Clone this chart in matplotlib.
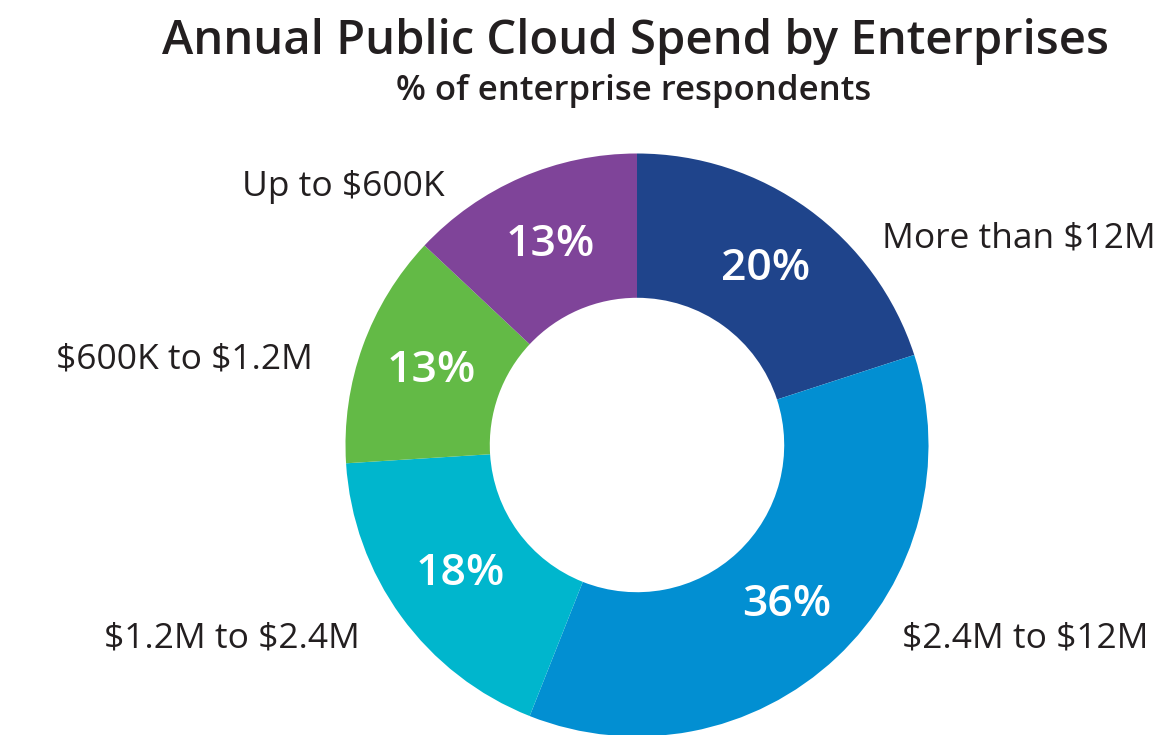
import matplotlib
matplotlib.use("Agg")
import matplotlib.pyplot as plt

# ---- data ----
categories = ["More than $12M", "$2.4M to $12M", "$1.2M to $2.4M",
              "$600K to $1.2M", "Up to $600K"]
shares = [20, 36, 18, 13, 13]
colors = ["#1F448B", "#028FD2", "#00B6CD", "#63BA46", "#7F4499"]

title = "Annual Public Cloud Spend by Enterprises"
subtitle = "% of enterprise respondents"

W, H = 1174, 735
CX, CY, R = 637, 445, 291.5   # donut centre / radius in pixels
TXT = "#231F20"

plt.rcParams["font.family"] = ["Open Sans", "DejaVu Sans"]
plt.rcParams["text.parse_math"] = False   # keep the $ signs literal

fig = plt.figure(figsize=(W / 100, H / 100), dpi=100)
ax = fig.add_axes([0, 0, 1, 1])
ax.set_aspect("equal")
ax.axis("off")

wedges, _, autotexts = ax.pie(
    shares, colors=colors, startangle=90, counterclock=False,
    radius=1.0, autopct=lambda p: f"{p:.0f}%", pctdistance=0.75,
    wedgeprops=dict(width=0.495, linewidth=0),
    textprops=dict(color="white", fontsize=32, fontweight="semibold"),
)
ax.set_xlim(-CX / R, (W - CX) / R)
ax.set_ylim(-(H - CY) / R, CY / R)


def px(x, y):
    # pixel (from top-left) -> figure fraction
    return x / W, 1 - y / H


# outer category labels: (x, baseline y, alignment)
label_pos = [(882, 247, "left"), (902, 647, "left"), (360, 647, "right"),
             (313, 368, "right"), (445, 196, "right")]
for name, (x, y, ha) in zip(categories, label_pos):
    fig.text(*px(x, y), name, ha=ha, va="baseline", fontsize=25.5, color=TXT)

fig.text(*px(635, 54), title, ha="center", va="baseline", fontsize=34,
         fontweight="semibold", color=TXT)
fig.text(*px(634, 100), subtitle, ha="center", va="baseline", fontsize=25,
         fontweight="semibold", color=TXT)

fig.savefig("out.png", dpi=100, facecolor="white")
